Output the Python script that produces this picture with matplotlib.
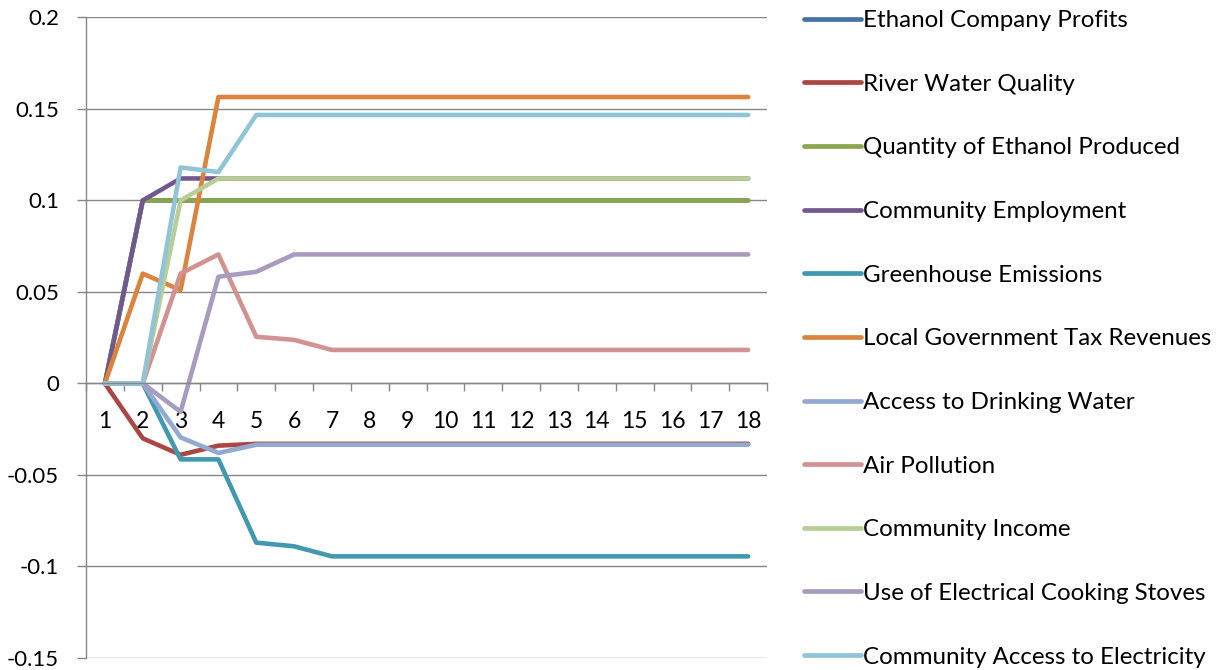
import numpy as np
import matplotlib
matplotlib.use("Agg")
import matplotlib.pyplot as plt

plt.rcParams["font.family"] = ["Lato", "DejaVu Sans"]

periods = list(range(1, 19))

series_names = [
    "Ethanol Company Profits",
    "River Water Quality",
    "Quantity of Ethanol Produced",
    "Community Employment",
    "Greenhouse Emissions",
    "Local Government Tax Revenues",
    "Access to Drinking Water",
    "Air Pollution",
    "Community Income",
    "Use of Electrical Cooking Stoves",
    "Community Access to Electricity",
]

ethanol_profits = [0, 0.1, 0.1, 0.1, 0.1, 0.1, 0.1, 0.1, 0.1, 0.1, 0.1, 0.1, 0.1, 0.1, 0.1, 0.1, 0.1, 0.1]
river_quality = [0, -0.03, -0.039, -0.034, -0.033, -0.033, -0.033, -0.033, -0.033, -0.033, -0.033, -0.033, -0.033, -0.033, -0.033, -0.033, -0.033, -0.033]
ethanol_quantity = [0, 0.1, 0.1, 0.1, 0.1, 0.1, 0.1, 0.1, 0.1, 0.1, 0.1, 0.1, 0.1, 0.1, 0.1, 0.1, 0.1, 0.1]
employment = [0, 0.1, 0.112, 0.112, 0.112, 0.112, 0.112, 0.112, 0.112, 0.112, 0.112, 0.112, 0.112, 0.112, 0.112, 0.112, 0.112, 0.112]
greenhouse = [0, 0, -0.0415, -0.0415, -0.087, -0.089, -0.0945, -0.0945, -0.0945, -0.0945, -0.0945, -0.0945, -0.0945, -0.0945, -0.0945, -0.0945, -0.0945, -0.0945]
tax_revenues = [0, 0.06, 0.051, 0.1565, 0.1565, 0.1565, 0.1565, 0.1565, 0.1565, 0.1565, 0.1565, 0.1565, 0.1565, 0.1565, 0.1565, 0.1565, 0.1565, 0.1565]
drinking_water = [0, 0, -0.0295, -0.038, -0.0335, -0.0335, -0.0335, -0.0335, -0.0335, -0.0335, -0.0335, -0.0335, -0.0335, -0.0335, -0.0335, -0.0335, -0.0335, -0.0335]
air_pollution = [0, 0, 0.06, 0.0705, 0.0255, 0.0238, 0.0183, 0.0183, 0.0183, 0.0183, 0.0183, 0.0183, 0.0183, 0.0183, 0.0183, 0.0183, 0.0183, 0.0183]
income = [0, 0, 0.1, 0.112, 0.112, 0.112, 0.112, 0.112, 0.112, 0.112, 0.112, 0.112, 0.112, 0.112, 0.112, 0.112, 0.112, 0.112]
cooking_stoves = [0, 0, -0.0155, 0.0583, 0.061, 0.0705, 0.0705, 0.0705, 0.0705, 0.0705, 0.0705, 0.0705, 0.0705, 0.0705, 0.0705, 0.0705, 0.0705, 0.0705]
electricity = [0, 0, 0.118, 0.1155, 0.1467, 0.1467, 0.1467, 0.1467, 0.1467, 0.1467, 0.1467, 0.1467, 0.1467, 0.1467, 0.1467, 0.1467, 0.1467, 0.1467]

all_series = [
    ethanol_profits, river_quality, ethanol_quantity, employment, greenhouse,
    tax_revenues, drinking_water, air_pollution, income, cooking_stoves, electricity,
]

# Excel 2007 default palette
colors = [
    "#4572A7", "#AA4643", "#89A54E", "#71588F", "#4198AF", "#DB843D",
    "#93A9CF", "#D19392", "#B9CD96", "#A99BBD", "#92C4D8",
]

y_ticks = [-0.15, -0.1, -0.05, 0, 0.05, 0.1, 0.15, 0.2]
y_tick_labels = ["-0.15", "-0.1", "-0.05", "0", "0.05", "0.1", "0.15", "0.2"]

grid_color = "#868686"
font_size = 16
legend_font_size = 17.4

fig = plt.figure(figsize=(12.25, 6.7), dpi=100)
ax = fig.add_axes([0.0702, 0.018, 0.556, 0.956])

for name, values, color in zip(series_names, all_series, colors):
    ax.plot(periods, values, color=color, linewidth=3.3, label=name,
            solid_capstyle="round", solid_joinstyle="round")

ax.set_xlim(0.5, 18.5)
ax.set_ylim(-0.15, 0.2)

# y axis
ax.set_yticks(y_ticks)
ax.set_yticklabels(y_tick_labels)
ax.yaxis.grid(True, color=grid_color, linewidth=1.0)
ax.set_axisbelow(True)
ax.tick_params(axis="y", direction="out", length=6.5, width=1, color=grid_color,
               pad=13, labelsize=font_size)

# x axis crosses at zero, tick marks between categories
ax.spines["bottom"].set_position(("data", 0))
ax.spines["top"].set_visible(False)
ax.spines["right"].set_visible(False)
for side in ["bottom", "left"]:
    ax.spines[side].set_color(grid_color)
    ax.spines[side].set_linewidth(1.0)

ax.set_xticks(periods)
ax.set_xticklabels([str(p) for p in periods])
ax.set_xticks(np.arange(0.5, 19, 1), minor=True)
ax.tick_params(axis="x", which="major", length=0, pad=20, labelsize=16.5)
ax.tick_params(axis="x", which="minor", direction="out", length=6, width=1,
               color=grid_color)

leg = ax.legend(loc="upper left", bbox_to_anchor=(0.6565, 0.985),
                bbox_transform=fig.transFigure, frameon=False,
                fontsize=legend_font_size, handlelength=2.35, handletextpad=0.1,
                labelspacing=1.765, borderpad=0, borderaxespad=0)
for line in leg.get_lines():
    line.set_linewidth(3.4)

fig.savefig("out.png", dpi=100)
